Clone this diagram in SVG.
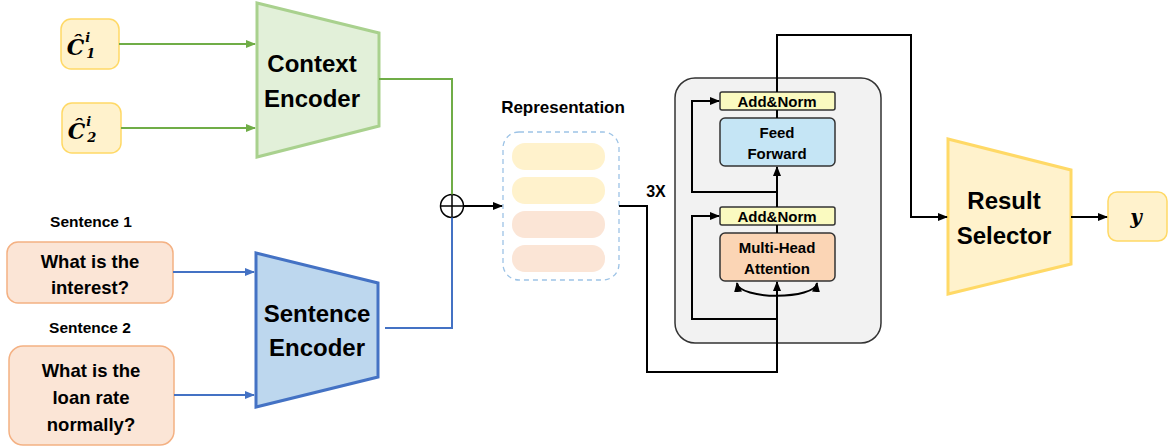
<svg xmlns="http://www.w3.org/2000/svg" width="1172" height="448" viewBox="0 0 1172 448">
<style>
text{font-family:"Liberation Sans",Arial,sans-serif;font-weight:bold;fill:#000;text-anchor:middle;dominant-baseline:central}
.math{font-family:"DejaVu Serif","Liberation Serif",serif;font-style:italic;font-weight:bold}
.ctx{fill:#fff2cc;stroke:#ffd966;stroke-width:1.5}
.sent{fill:#fbe5d6;stroke:#f4b183;stroke-width:1.5}
.g{fill:none;stroke:#70ad47;stroke-width:2}
.b{fill:none;stroke:#4472c4;stroke-width:2}
.k{fill:none;stroke:#000;stroke-width:2}
.an{fill:#fafac0;stroke:#333;stroke-width:1.5}
</style>
<defs>
<marker id="ag" markerWidth="10" markerHeight="10" refX="9" refY="5" orient="auto" markerUnits="userSpaceOnUse"><path d="M0,1 L10,5 L0,9 Z" fill="#70ad47"/></marker>
<marker id="ab" markerWidth="10" markerHeight="10" refX="9" refY="5" orient="auto" markerUnits="userSpaceOnUse"><path d="M0,1 L10,5 L0,9 Z" fill="#4472c4"/></marker>
<marker id="ak" markerWidth="10" markerHeight="10" refX="9" refY="5" orient="auto" markerUnits="userSpaceOnUse"><path d="M0,1 L10,5 L0,9 Z" fill="#000"/></marker>
<marker id="aks" markerWidth="10" markerHeight="10" refX="1" refY="5" orient="auto" markerUnits="userSpaceOnUse"><path d="M10,1 L0,5 L10,9 Z" fill="#000"/></marker>
</defs>

<g id="c1">
<rect class="ctx" x="61" y="19" width="58" height="50" rx="10"/>
<text class="math" x="81" y="47" font-size="22">Ĉ<tspan font-size="13" dy="-10" dx="1">i</tspan><tspan font-size="13" dy="16" dx="-4">1</tspan></text>
</g>
<g id="c2">
<rect class="ctx" x="62" y="103" width="59" height="50" rx="10"/>
<text class="math" x="82" y="131" font-size="22">Ĉ<tspan font-size="13" dy="-10" dx="1">i</tspan><tspan font-size="13" dy="16" dx="-4">2</tspan></text>
</g>

<g id="context-encoder">
<path d="M257,3 L379,33 L379,126 L257,157 Z" fill="#e2f0d9" stroke="#a9d18e" stroke-width="3"/>
<text x="312" y="63" font-size="24">Context</text>
<text x="312" y="98" font-size="24">Encoder</text>
</g>

<g id="s1-label"><text x="91" y="221" font-size="15.5">Sentence 1</text></g>
<g id="s1">
<rect class="sent" x="7" y="242" width="166" height="61" rx="11"/>
<text x="90" y="261" font-size="18.5">What is the</text>
<text x="90" y="287" font-size="18.5">interest?</text>
</g>
<g id="s2-label"><text x="90" y="327" font-size="15.5">Sentence 2</text></g>
<g id="s2">
<rect class="sent" x="9" y="346" width="165" height="99" rx="14"/>
<text x="91" y="370" font-size="18.5">What is the</text>
<text x="91" y="397" font-size="18.5">loan rate</text>
<text x="91" y="424" font-size="18.5">normally?</text>
</g>

<g id="sentence-encoder">
<path d="M256,253 L378,283 L378,377 L256,407 Z" fill="#bdd7ee" stroke="#4472c4" stroke-width="3"/>
<text x="317" y="313" font-size="24">Sentence</text>
<text x="317" y="347" font-size="24">Encoder</text>
</g>

<g id="plus">
<circle cx="452" cy="206" r="11.5" fill="#fff" stroke="#000" stroke-width="1.5"/>
<path d="M440.5,206 H463.5 M452,194.5 V217.5" stroke="#000" stroke-width="1.5"/>
</g>

<g id="representation">
<text x="563" y="107" font-size="17">Representation</text>
<rect x="503" y="132" width="116" height="148" rx="16" fill="#fff" stroke="#9dc3e6" stroke-width="1.3" stroke-dasharray="5,4"/>
<rect x="512" y="143" width="93" height="27" rx="13" fill="#fff2cc"/>
<rect x="512" y="177" width="93" height="27" rx="13" fill="#fff2cc"/>
<rect x="512" y="211" width="93" height="27" rx="13" fill="#fbe5d6"/>
<rect x="512" y="245" width="93" height="27" rx="13" fill="#fbe5d6"/>
</g>

<g id="label-3x"><text x="656" y="191" font-size="16">3X</text></g>

<g id="transformer">
<rect x="675" y="78" width="206" height="265" rx="20" fill="#f2f2f2" stroke="#333" stroke-width="1.5"/>
</g>
<g id="addnorm-top">
<rect class="an" x="720" y="92" width="115" height="18" rx="2"/>
<text x="777" y="101" font-size="15">Add&amp;Norm</text>
</g>
<g id="feed-forward">
<rect x="720" y="118" width="115" height="48" rx="5" fill="#c5e5f5" stroke="#333" stroke-width="1.5"/>
<text x="777" y="132" font-size="15">Feed</text>
<text x="777" y="153" font-size="15">Forward</text>
</g>
<g id="addnorm-bottom">
<rect class="an" x="720" y="207" width="115" height="18" rx="2"/>
<text x="777" y="216" font-size="15">Add&amp;Norm</text>
</g>
<g id="mha">
<rect x="720" y="233" width="115" height="48" rx="5" fill="#fbd5b5" stroke="#333" stroke-width="1.5"/>
<text x="777" y="247" font-size="15">Multi-Head</text>
<text x="777" y="268" font-size="15">Attention</text>
</g>

<g id="result-selector">
<path d="M948,139 L1071,170 L1071,264 L948,294 Z" fill="#fff2cc" stroke="#ffd966" stroke-width="3"/>
<text x="1004" y="200" font-size="24">Result</text>
<text x="1004" y="235" font-size="24">Selector</text>
</g>
<g id="y">
<rect class="ctx" x="1108" y="192" width="59" height="49" rx="9"/>
<text class="math" x="1136" y="217" font-size="20">y</text>
</g>

<g id="connectors">
<path class="g" d="M119,44 H255" marker-end="url(#ag)"/>
<path class="g" d="M121,128 H255" marker-end="url(#ag)"/>
<path class="g" d="M379,79 H452 V194.5"/>
<path class="b" d="M173,272 H254" marker-end="url(#ab)"/>
<path class="b" d="M174,395 H254" marker-end="url(#ab)"/>
<path class="b" d="M385,328 H452 V217.5"/>
<path class="k" stroke-width="1.5" d="M463.5,206 H502" marker-end="url(#ak)"/>
<path class="k" d="M619,206 H647 V372 H777 V282" marker-end="url(#ak)"/>
<path class="k" d="M777,319 H692 V216 H719" marker-end="url(#ak)"/>
<path class="k" d="M777,225 V233"/>
<path class="k" d="M777,207 V167" marker-end="url(#ak)"/>
<path class="k" d="M777,192 H692 V101 H719" marker-end="url(#ak)"/>
<path class="k" d="M777,110 V118"/>
<path class="k" d="M737,283 C739,300 815,300 817,283" marker-start="url(#aks)" marker-end="url(#ak)"/>
<path class="k" d="M777,92 V35 H911 V217 H947" marker-end="url(#ak)"/>
<path class="k" d="M1071,217 H1107" marker-end="url(#ak)"/>
</g>
</svg>
